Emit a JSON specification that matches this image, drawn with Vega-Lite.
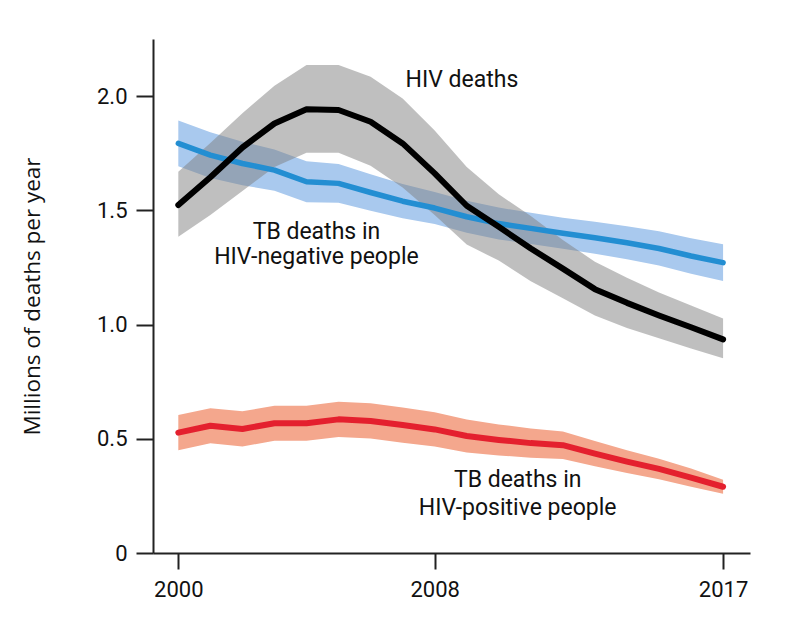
{
  "$schema": "https://vega.github.io/schema/vega-lite/v6.json",
  "autosize": {"type": "none"},
  "width": 597,
  "height": 514,
  "padding": {"left": 153, "top": 39, "right": 36, "bottom": 65},
  "background": "white",
  "config": {
    "view": {"stroke": null},
    "axis": {
      "domainColor": "#222222",
      "domainWidth": 2,
      "tickColor": "#222222",
      "tickWidth": 2,
      "grid": false,
      "labelFont": "Roboto",
      "labelFontSize": 22,
      "labelColor": "#111111"
    }
  },
  "datasets": {
    "series": [
      {"series": "HIV", "year": 2000, "mean": 1.523, "lo": 1.384, "hi": 1.669},
      {"series": "HIV", "year": 2001, "mean": 1.645, "lo": 1.480, "hi": 1.795},
      {"series": "HIV", "year": 2002, "mean": 1.775, "lo": 1.585, "hi": 1.925},
      {"series": "HIV", "year": 2003, "mean": 1.880, "lo": 1.690, "hi": 2.045},
      {"series": "HIV", "year": 2004, "mean": 1.942, "lo": 1.752, "hi": 2.136},
      {"series": "HIV", "year": 2005, "mean": 1.939, "lo": 1.752, "hi": 2.136},
      {"series": "HIV", "year": 2006, "mean": 1.888, "lo": 1.695, "hi": 2.085},
      {"series": "HIV", "year": 2007, "mean": 1.793, "lo": 1.600, "hi": 1.990},
      {"series": "HIV", "year": 2008, "mean": 1.662, "lo": 1.480, "hi": 1.850},
      {"series": "HIV", "year": 2009, "mean": 1.520, "lo": 1.350, "hi": 1.690},
      {"series": "HIV", "year": 2010, "mean": 1.428, "lo": 1.280, "hi": 1.570},
      {"series": "HIV", "year": 2011, "mean": 1.333, "lo": 1.190, "hi": 1.475},
      {"series": "HIV", "year": 2012, "mean": 1.245, "lo": 1.115, "hi": 1.370},
      {"series": "HIV", "year": 2013, "mean": 1.155, "lo": 1.040, "hi": 1.275},
      {"series": "HIV", "year": 2014, "mean": 1.095, "lo": 0.985, "hi": 1.205},
      {"series": "HIV", "year": 2015, "mean": 1.040, "lo": 0.940, "hi": 1.140},
      {"series": "HIV", "year": 2016, "mean": 0.988, "lo": 0.895, "hi": 1.083},
      {"series": "HIV", "year": 2017, "mean": 0.935, "lo": 0.852, "hi": 1.027},
      {"series": "TBneg", "year": 2000, "mean": 1.793, "lo": 1.693, "hi": 1.893},
      {"series": "TBneg", "year": 2001, "mean": 1.742, "lo": 1.642, "hi": 1.842},
      {"series": "TBneg", "year": 2002, "mean": 1.705, "lo": 1.610, "hi": 1.800},
      {"series": "TBneg", "year": 2003, "mean": 1.676, "lo": 1.586, "hi": 1.766},
      {"series": "TBneg", "year": 2004, "mean": 1.625, "lo": 1.535, "hi": 1.715},
      {"series": "TBneg", "year": 2005, "mean": 1.618, "lo": 1.533, "hi": 1.703},
      {"series": "TBneg", "year": 2006, "mean": 1.578, "lo": 1.498, "hi": 1.658},
      {"series": "TBneg", "year": 2007, "mean": 1.540, "lo": 1.465, "hi": 1.615},
      {"series": "TBneg", "year": 2008, "mean": 1.510, "lo": 1.440, "hi": 1.580},
      {"series": "TBneg", "year": 2009, "mean": 1.472, "lo": 1.402, "hi": 1.542},
      {"series": "TBneg", "year": 2010, "mean": 1.442, "lo": 1.372, "hi": 1.512},
      {"series": "TBneg", "year": 2011, "mean": 1.421, "lo": 1.353, "hi": 1.489},
      {"series": "TBneg", "year": 2012, "mean": 1.400, "lo": 1.332, "hi": 1.468},
      {"series": "TBneg", "year": 2013, "mean": 1.380, "lo": 1.310, "hi": 1.450},
      {"series": "TBneg", "year": 2014, "mean": 1.358, "lo": 1.286, "hi": 1.430},
      {"series": "TBneg", "year": 2015, "mean": 1.333, "lo": 1.258, "hi": 1.408},
      {"series": "TBneg", "year": 2016, "mean": 1.300, "lo": 1.222, "hi": 1.378},
      {"series": "TBneg", "year": 2017, "mean": 1.271, "lo": 1.191, "hi": 1.351},
      {"series": "TBpos", "year": 2000, "mean": 0.527, "lo": 0.450, "hi": 0.604},
      {"series": "TBpos", "year": 2001, "mean": 0.557, "lo": 0.480, "hi": 0.634},
      {"series": "TBpos", "year": 2002, "mean": 0.543, "lo": 0.466, "hi": 0.620},
      {"series": "TBpos", "year": 2003, "mean": 0.568, "lo": 0.491, "hi": 0.645},
      {"series": "TBpos", "year": 2004, "mean": 0.568, "lo": 0.491, "hi": 0.645},
      {"series": "TBpos", "year": 2005, "mean": 0.585, "lo": 0.508, "hi": 0.662},
      {"series": "TBpos", "year": 2006, "mean": 0.578, "lo": 0.501, "hi": 0.655},
      {"series": "TBpos", "year": 2007, "mean": 0.560, "lo": 0.483, "hi": 0.637},
      {"series": "TBpos", "year": 2008, "mean": 0.541, "lo": 0.466, "hi": 0.616},
      {"series": "TBpos", "year": 2009, "mean": 0.512, "lo": 0.440, "hi": 0.584},
      {"series": "TBpos", "year": 2010, "mean": 0.495, "lo": 0.427, "hi": 0.563},
      {"series": "TBpos", "year": 2011, "mean": 0.481, "lo": 0.417, "hi": 0.545},
      {"series": "TBpos", "year": 2012, "mean": 0.472, "lo": 0.412, "hi": 0.532},
      {"series": "TBpos", "year": 2013, "mean": 0.435, "lo": 0.380, "hi": 0.490},
      {"series": "TBpos", "year": 2014, "mean": 0.400, "lo": 0.350, "hi": 0.450},
      {"series": "TBpos", "year": 2015, "mean": 0.368, "lo": 0.323, "hi": 0.413},
      {"series": "TBpos", "year": 2016, "mean": 0.330, "lo": 0.290, "hi": 0.370},
      {"series": "TBpos", "year": 2017, "mean": 0.290, "lo": 0.259, "hi": 0.321}
    ],
    "labels": [
      {"year": 2008.85, "value": 2.07, "label": "HIV deaths"},
      {"year": 2004.31, "value": 1.405, "label": "TB deaths in"},
      {"year": 2004.31, "value": 1.295, "label": "HIV-negative people"},
      {"year": 2010.59, "value": 0.319, "label": "TB deaths in"},
      {"year": 2010.59, "value": 0.197, "label": "HIV-positive people"}
    ]
  },
  "encoding": {
    "x": {
      "field": "year",
      "type": "quantitative",
      "scale": {"domain": [1999.21, 2017.84], "nice": false, "zero": false},
      "axis": {
        "values": [2000, 2008, 2017],
        "format": "d",
        "title": null,
        "tickSize": 16,
        "labelPadding": 10
      }
    },
    "y": {
      "field": "mean",
      "type": "quantitative",
      "scale": {"domain": [0, 2.25], "nice": false},
      "axis": {
        "values": [0, 0.5, 1, 1.5, 2],
        "labelExpr": "datum.value == 0 ? '0' : format(datum.value, '.1f')",
        "tickSize": 17,
        "labelPadding": 9,
        "title": "Millions of deaths per year",
        "titleFont": "Open Sans",
        "titleFontSize": 22.5,
        "titleFontWeight": "normal",
        "titleColor": "#111111",
        "titleX": -121,
        "titleY": 257,
        "titleAngle": -90,
        "titleBaseline": "middle",
        "titleAlign": "center"
      }
    }
  },
  "layer": [
    {
      "data": {"name": "series"},
      "transform": [{"filter": "datum.series === 'TBpos'"}],
      "mark": {"type": "area", "color": "#f4a78d", "opacity": 1},
      "encoding": {"y": {"field": "lo", "type": "quantitative"}, "y2": {"field": "hi"}}
    },
    {
      "data": {"name": "series"},
      "transform": [{"filter": "datum.series === 'TBpos'"}],
      "mark": {"type": "line", "color": "#e4202e", "strokeWidth": 6, "strokeCap": "round", "strokeJoin": "round"},
      "encoding": {}
    },
    {
      "data": {"name": "series"},
      "transform": [{"filter": "datum.series === 'TBneg'"}],
      "mark": {"type": "area", "color": "#a9c9ee", "opacity": 1},
      "encoding": {"y": {"field": "lo", "type": "quantitative"}, "y2": {"field": "hi"}}
    },
    {
      "data": {"name": "series"},
      "transform": [{"filter": "datum.series === 'HIV'"}],
      "mark": {"type": "area", "color": "#808080", "opacity": 0.5},
      "encoding": {"y": {"field": "lo", "type": "quantitative"}, "y2": {"field": "hi"}}
    },
    {
      "data": {"name": "series"},
      "transform": [{"filter": "datum.series === 'TBneg'"}],
      "mark": {"type": "line", "color": "#238ed2", "strokeWidth": 5.5, "strokeCap": "round", "strokeJoin": "round"},
      "encoding": {}
    },
    {
      "data": {"name": "series"},
      "transform": [{"filter": "datum.series === 'HIV'"}],
      "mark": {"type": "line", "color": "#000000", "strokeWidth": 6, "strokeCap": "round", "strokeJoin": "round"},
      "encoding": {}
    },
    {
      "data": {"name": "labels"},
      "mark": {"type": "text", "font": "Roboto", "fontSize": 23, "color": "#111111", "align": "center", "baseline": "middle"},
      "encoding": {
        "y": {"field": "value", "type": "quantitative"},
        "text": {"field": "label", "type": "nominal"}
      }
    }
  ]
}
